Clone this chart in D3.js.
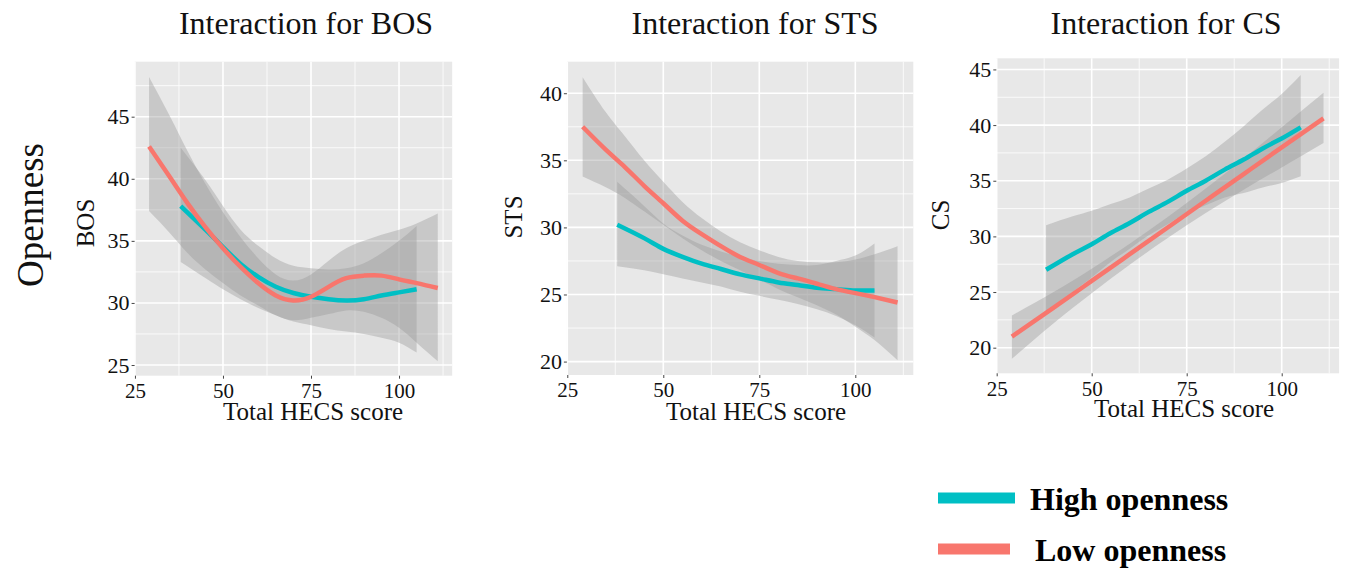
<!DOCTYPE html>
<html>
<head>
<meta charset="utf-8">
<script src="https://cdn.jsdelivr.net/npm/d3@7"></script>
<style>
  body { margin: 0; background: #ffffff; }
  svg { display: block; font-family: "Liberation Serif", "Times New Roman", serif; }
</style>
</head>
<body>
<svg id="chart" width="1345" height="569"></svg>
<script>
// ---- data ----
const groupNames = ["High openness", "Low openness"];
const groupColors = ["#00BFC4", "#F8766D"];
const xTicks = [25, 50, 75, 100];
const xMinor = [37.5, 62.5, 87.5, 112.5];

// BOS panel
const bosYTicks = [25, 30, 35, 40, 45];
const bosHighX  = [38, 45, 50, 55, 60, 65, 70, 75, 80, 85, 90, 95, 100, 105];
const bosHighY  = [37.8, 35.9, 34.5, 33.15, 32.1, 31.3, 30.8, 30.5, 30.3, 30.2, 30.3, 30.6, 30.85, 31.1];
const bosHighLo = [33.3, 32.0, 31.1, 30.3, 29.6, 29.0, 28.5, 28.2, 27.9, 27.7, 27.5, 27.2, 26.8, 26.0];
const bosHighHi = [42.5, 39.9, 37.8, 35.9, 34.6, 33.6, 33.0, 32.8, 32.7, 32.8, 33.2, 34.0, 35.0, 36.2];
const bosLowX   = [29, 35, 40, 45, 50, 55, 60, 65, 70, 75, 80, 85, 90, 95, 100, 105, 111];
const bosLowY   = [42.6, 40.1, 38.0, 36.1, 34.4, 32.9, 31.6, 30.6, 30.2, 30.5, 31.3, 32.0, 32.2, 32.2, 31.9, 31.6, 31.2];
const bosLowLo  = [37.4, 35.6, 34.0, 32.7, 31.6, 30.6, 29.8, 29.0, 28.6, 28.8, 29.1, 29.4, 29.3, 28.8, 28.0, 26.8, 25.3];
const bosLowHi  = [48.2, 45.0, 42.2, 39.6, 37.3, 35.3, 33.6, 32.3, 31.8, 32.3, 33.4, 34.4, 35.0, 35.5, 35.9, 36.4, 37.2];

// STS panel
const stsYTicks = [20, 25, 30, 35, 40];
const stsHighX  = [38, 45, 50, 55, 60, 65, 70, 75, 80, 85, 90, 95, 100, 105];
const stsHighY  = [30.2, 29.2, 28.4, 27.8, 27.3, 26.9, 26.5, 26.2, 25.9, 25.7, 25.5, 25.4, 25.3, 25.3];
const stsHighLo = [27.1, 26.8, 26.5, 26.2, 25.9, 25.6, 25.2, 24.9, 24.6, 24.3, 23.9, 23.4, 22.7, 21.8];
const stsHighHi = [33.4, 31.6, 30.3, 29.4, 28.7, 28.2, 27.8, 27.5, 27.3, 27.2, 27.2, 27.5, 27.9, 28.8];
const stsLowX   = [29, 35, 40, 45, 50, 55, 60, 65, 70, 75, 80, 85, 90, 95, 100, 105, 111];
const stsLowY   = [37.5, 35.8, 34.5, 33.1, 31.8, 30.5, 29.5, 28.6, 27.8, 27.2, 26.6, 26.2, 25.8, 25.4, 25.1, 24.8, 24.4];
const stsLowLo  = [33.8, 33.0, 32.2, 31.2, 30.2, 29.2, 28.3, 27.5, 26.8, 26.1, 25.4, 24.8, 24.2, 23.5, 22.6, 21.6, 20.1];
const stsLowHi  = [41.2, 38.6, 36.8, 35.0, 33.4, 31.9, 30.7, 29.7, 28.9, 28.3, 27.8, 27.5, 27.4, 27.4, 27.6, 28.0, 28.6];

// CS panel
const csYTicks = [20, 25, 30, 35, 40, 45];
const csHighX  = [38, 45, 50, 55, 60, 65, 70, 75, 80, 85, 90, 95, 100, 105];
const csHighY  = [27.0, 28.4, 29.3, 30.3, 31.2, 32.2, 33.1, 34.1, 35.0, 36.0, 36.9, 37.9, 38.8, 39.8];
const csHighLo = [23.0, 25.0, 26.3, 27.7, 28.9, 30.1, 31.1, 32.1, 32.8, 33.5, 33.9, 34.4, 34.8, 35.4];
const csHighHi = [31.0, 31.8, 32.3, 32.9, 33.5, 34.3, 35.1, 36.1, 37.2, 38.5, 39.9, 41.4, 42.8, 44.5];
const csLowX   = [29, 40, 50, 60, 70, 80, 90, 100, 111];
const csLowY   = [21.0, 23.6, 26.0, 28.4, 30.8, 33.2, 35.6, 38.0, 40.6];
const csLowLo  = [19.0, 22.2, 24.9, 27.45, 29.85, 32.1, 34.2, 36.2, 38.4];
const csLowHi  = [22.9, 25.0, 27.1, 29.35, 31.75, 34.3, 37.0, 39.8, 42.9];

const panels = [
    {
        title: "Interaction for BOS", yLabel: "BOS", yTicks: bosYTicks, yDomain: [24.14, 49.43],
        box: { left: 134.6, right: 452.2, top: 61.7, bottom: 375.7 },
        titleX: 306, xTitleX: 313, xTitleY: 420, tickY: 398, yLabelX: 85, yLabelY: 223,
        series: [
            { x: bosHighX, y: bosHighY, lo: bosHighLo, hi: bosHighHi, group: 0 },
            { x: bosLowX, y: bosLowY, lo: bosLowLo, hi: bosLowHi, group: 1 }
        ]
    },
    {
        title: "Interaction for STS", yLabel: "STS", yTicks: stsYTicks, yDomain: [19.0, 42.35],
        box: { left: 566.9, right: 913.3, top: 61.7, bottom: 375 },
        titleX: 755, xTitleX: 756, xTitleY: 420, tickY: 397, yLabelX: 513, yLabelY: 217,
        series: [
            { x: stsHighX, y: stsHighY, lo: stsHighLo, hi: stsHighHi, group: 0 },
            { x: stsLowX, y: stsLowY, lo: stsLowLo, hi: stsLowHi, group: 1 }
        ]
    },
    {
        title: "Interaction for CS", yLabel: "CS", yTicks: csYTicks, yDomain: [17.7, 46.0],
        box: { left: 996.3, right: 1339.1, top: 58.3, bottom: 373.3 },
        titleX: 1166, xTitleX: 1184, xTitleY: 417, tickY: 396, yLabelX: 940, yLabelY: 215,
        series: [
            { x: csHighX, y: csHighY, lo: csHighLo, hi: csHighHi, group: 0 },
            { x: csLowX, y: csLowY, lo: csLowLo, hi: csLowHi, group: 1 }
        ]
    }
];

const svg = d3.select("#chart");

function drawPanel(p) {
    const b = p.box;
    const x = d3.scaleLinear().domain([24.9, 115.1]).range([b.left, b.right]);
    const y = d3.scaleLinear().domain(p.yDomain).range([b.bottom, b.top]);
    const g = svg.append("g");

    // panel background
    g.append("rect")
        .attr("x", b.left).attr("y", b.top)
        .attr("width", b.right - b.left).attr("height", b.bottom - b.top)
        .attr("fill", "#E8E8E8");

    // minor + major grid
    const yMinor = p.yTicks.map(t => t + 2.5).concat([p.yTicks[0] - 2.5])
        .filter(v => v > p.yDomain[0] && v < p.yDomain[1]);
    const xMinorIn = xMinor.filter(v => v < 115.1);

    g.append("g").selectAll("line").data(xMinorIn).join("line")
        .attr("x1", d => x(d)).attr("x2", d => x(d)).attr("y1", b.top).attr("y2", b.bottom)
        .attr("stroke", "#ffffff").attr("stroke-width", 0.8);
    g.append("g").selectAll("line").data(yMinor).join("line")
        .attr("y1", d => y(d)).attr("y2", d => y(d)).attr("x1", b.left).attr("x2", b.right)
        .attr("stroke", "#ffffff").attr("stroke-width", 0.8);
    g.append("g").selectAll("line").data(xTicks).join("line")
        .attr("x1", d => x(d)).attr("x2", d => x(d)).attr("y1", b.top).attr("y2", b.bottom)
        .attr("stroke", "#ffffff").attr("stroke-width", 1.6);
    g.append("g").selectAll("line").data(p.yTicks).join("line")
        .attr("y1", d => y(d)).attr("y2", d => y(d)).attr("x1", b.left).attr("x2", b.right)
        .attr("stroke", "#ffffff").attr("stroke-width", 1.6);

    // confidence ribbons
    const area = d3.area()
        .x(d => x(d.x)).y0(d => y(d.lo)).y1(d => y(d.hi))
        .curve(d3.curveNatural);
    p.series.forEach(s => {
        const pts = s.x.map((v, i) => ({ x: v, lo: s.lo[i], hi: s.hi[i] }));
        g.append("path").datum(pts)
            .attr("d", area)
            .attr("fill", "#999999")
            .attr("fill-opacity", 0.4);
    });

    // fitted lines
    const line = d3.line().x(d => x(d.x)).y(d => y(d.y)).curve(d3.curveNatural);
    p.series.forEach(s => {
        const pts = s.x.map((v, i) => ({ x: v, y: s.y[i] }));
        g.append("path").datum(pts)
            .attr("d", line)
            .attr("fill", "none")
            .attr("stroke", groupColors[s.group])
            .attr("stroke-width", 4.5);
    });

    // axes
    const yAxis = g.append("g")
        .attr("transform", `translate(${b.left},0)`)
        .call(d3.axisLeft(y).tickValues(p.yTicks).tickSize(3).tickPadding(2));
    yAxis.select(".domain").remove();
    yAxis.selectAll("line").attr("stroke", "#444");
    yAxis.selectAll("text").attr("font-size", 22).attr("fill", "#111")
        .attr("font-family", "'Liberation Serif', serif");

    const xAxis = g.append("g")
        .attr("transform", `translate(0,${b.bottom})`)
        .call(d3.axisBottom(x).tickValues(xTicks).tickSize(3).tickPadding(2));
    xAxis.select(".domain").remove();
    xAxis.selectAll("line").attr("stroke", "#444");
    xAxis.selectAll("text").attr("font-size", 21).attr("fill", "#111")
        .attr("font-family", "'Liberation Serif', serif")
        .attr("dy", null).attr("y", p.tickY - b.bottom);

    // titles
    g.append("text")
        .attr("x", p.titleX).attr("y", 34)
        .attr("text-anchor", "middle").attr("font-size", 32).attr("fill", "#111")
        .text(p.title);
    g.append("text")
        .attr("x", p.xTitleX).attr("y", p.xTitleY)
        .attr("text-anchor", "middle").attr("font-size", 25).attr("fill", "#111")
        .text("Total HECS score");
    g.append("text")
        .attr("transform", `translate(${p.yLabelX},${p.yLabelY}) rotate(-90)`)
        .attr("dy", "0.35em")
        .attr("text-anchor", "middle").attr("font-size", 25).attr("fill", "#111")
        .text(p.yLabel);
}

panels.forEach(drawPanel);

// row label
svg.append("text")
    .attr("transform", "translate(30,215) rotate(-90)")
    .attr("dy", "0.35em")
    .attr("text-anchor", "middle").attr("font-size", 37).attr("fill", "#111")
    .text("Openness");

// legend
const legendRows = [
    { y: 498, x2: 1015, tx: 1030, ty: 510 },
    { y: 549, x2: 1010, tx: 1035, ty: 561 }
];
groupNames.forEach((name, i) => {
    const r = legendRows[i];
    svg.append("line")
        .attr("x1", 938).attr("x2", r.x2).attr("y1", r.y).attr("y2", r.y)
        .attr("stroke", groupColors[i]).attr("stroke-width", 11);
    svg.append("text")
        .attr("x", r.tx).attr("y", r.ty)
        .attr("font-size", 32).attr("font-weight", "bold").attr("fill", "#000")
        .text(name);
});
</script>
</body>
</html>
